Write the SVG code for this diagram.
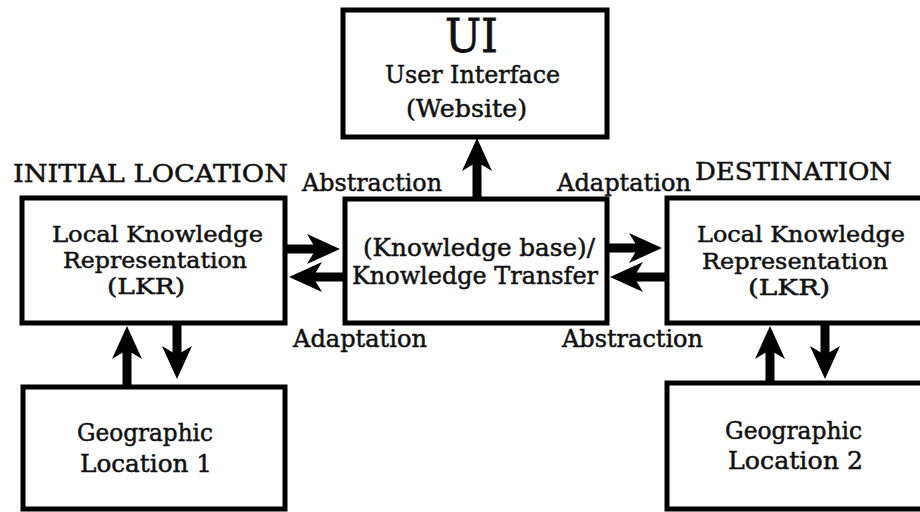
<svg xmlns="http://www.w3.org/2000/svg" width="920" height="512" viewBox="0 0 920 512">
<style>
.box{fill:#fff;stroke:#000;stroke-width:5}
.t{font-family:"DejaVu Serif","Liberation Serif",serif;font-size:24px;fill:#111;stroke:#111;stroke-width:0.5}
.s{font-size:22.5px}
.big{font-size:47px;stroke-width:0.8}
.arr{stroke:#000;stroke-width:9;fill:none;marker-end:url(#ah)}
</style>
<defs>
<marker id="ah" markerUnits="userSpaceOnUse" orient="auto" markerWidth="40" markerHeight="40" viewBox="-20 -20 40 40" refX="0" refY="0">
<path d="M20,0 L-13,-15 L-4,0 L-13,15 Z" fill="#000"/>
</marker>
</defs>
<rect width="920" height="512" fill="#fff"/>
<g id="connectors">
<line class="arr" x1="477" y1="199" x2="477" y2="158"/>
<line class="arr" x1="285" y1="249" x2="320" y2="249"/>
<line class="arr" x1="345" y1="277" x2="309" y2="277"/>
<line class="arr" x1="607" y1="248" x2="642" y2="248"/>
<line class="arr" x1="667" y1="277" x2="630" y2="277"/>
<line class="arr" x1="127" y1="387" x2="127" y2="346"/>
<line class="arr" x1="177" y1="323" x2="177" y2="359"/>
<line class="arr" x1="770" y1="383" x2="770" y2="346"/>
<line class="arr" x1="825" y1="325" x2="825" y2="359"/>
</g>
<g id="ui">
<rect class="box" x="343" y="10" width="264" height="127"/>
<text class="t big" x="445" y="52" textLength="53" lengthAdjust="spacingAndGlyphs">UI</text>
<text class="t" x="385" y="83" textLength="175" lengthAdjust="spacingAndGlyphs">User Interface</text>
<text class="t" x="406" y="117" textLength="121" lengthAdjust="spacingAndGlyphs">(Website)</text>
</g>
<g id="lkr-initial">
<rect class="box" x="22" y="198" width="263" height="125"/>
<text class="t s" x="52" y="242" textLength="211" lengthAdjust="spacingAndGlyphs">Local Knowledge</text>
<text class="t s" x="63" y="268" textLength="184" lengthAdjust="spacingAndGlyphs">Representation</text>
<text class="t s" x="107" y="294" textLength="78" lengthAdjust="spacingAndGlyphs">(LKR)</text>
</g>
<g id="kb">
<rect class="box" x="345" y="199" width="262" height="124"/>
<text class="t" x="363" y="256" textLength="232" lengthAdjust="spacingAndGlyphs">(Knowledge base)/</text>
<text class="t" x="352" y="284" textLength="246" lengthAdjust="spacingAndGlyphs">Knowledge Transfer</text>
</g>
<g id="lkr-destination">
<rect class="box" x="667" y="198" width="280" height="125"/>
<text class="t s" x="697" y="242" textLength="208" lengthAdjust="spacingAndGlyphs">Local Knowledge</text>
<text class="t s" x="702" y="269" textLength="186" lengthAdjust="spacingAndGlyphs">Representation</text>
<text class="t s" x="748" y="295" textLength="82" lengthAdjust="spacingAndGlyphs">(LKR)</text>
</g>
<g id="geo1">
<rect class="box" x="23" y="387" width="262" height="122"/>
<text class="t" x="77" y="441" textLength="136" lengthAdjust="spacingAndGlyphs">Geographic</text>
<text class="t" x="80" y="472" textLength="132" lengthAdjust="spacingAndGlyphs">Location 1</text>
</g>
<g id="geo2">
<rect class="box" x="667" y="383" width="280" height="126"/>
<text class="t" x="725" y="439" textLength="137" lengthAdjust="spacingAndGlyphs">Geographic</text>
<text class="t" x="728" y="469" textLength="135" lengthAdjust="spacingAndGlyphs">Location 2</text>
</g>
<g id="labels">
<text class="t" x="13" y="182" textLength="275" lengthAdjust="spacingAndGlyphs">INITIAL LOCATION</text>
<text class="t" x="695" y="180" textLength="197" lengthAdjust="spacingAndGlyphs">DESTINATION</text>
<text class="t" x="302" y="191" textLength="140" lengthAdjust="spacingAndGlyphs">Abstraction</text>
<text class="t" x="557" y="191" textLength="134" lengthAdjust="spacingAndGlyphs">Adaptation</text>
<text class="t" x="293" y="347" textLength="134" lengthAdjust="spacingAndGlyphs">Adaptation</text>
<text class="t" x="562" y="347" textLength="141" lengthAdjust="spacingAndGlyphs">Abstraction</text>
</g>
</svg>
